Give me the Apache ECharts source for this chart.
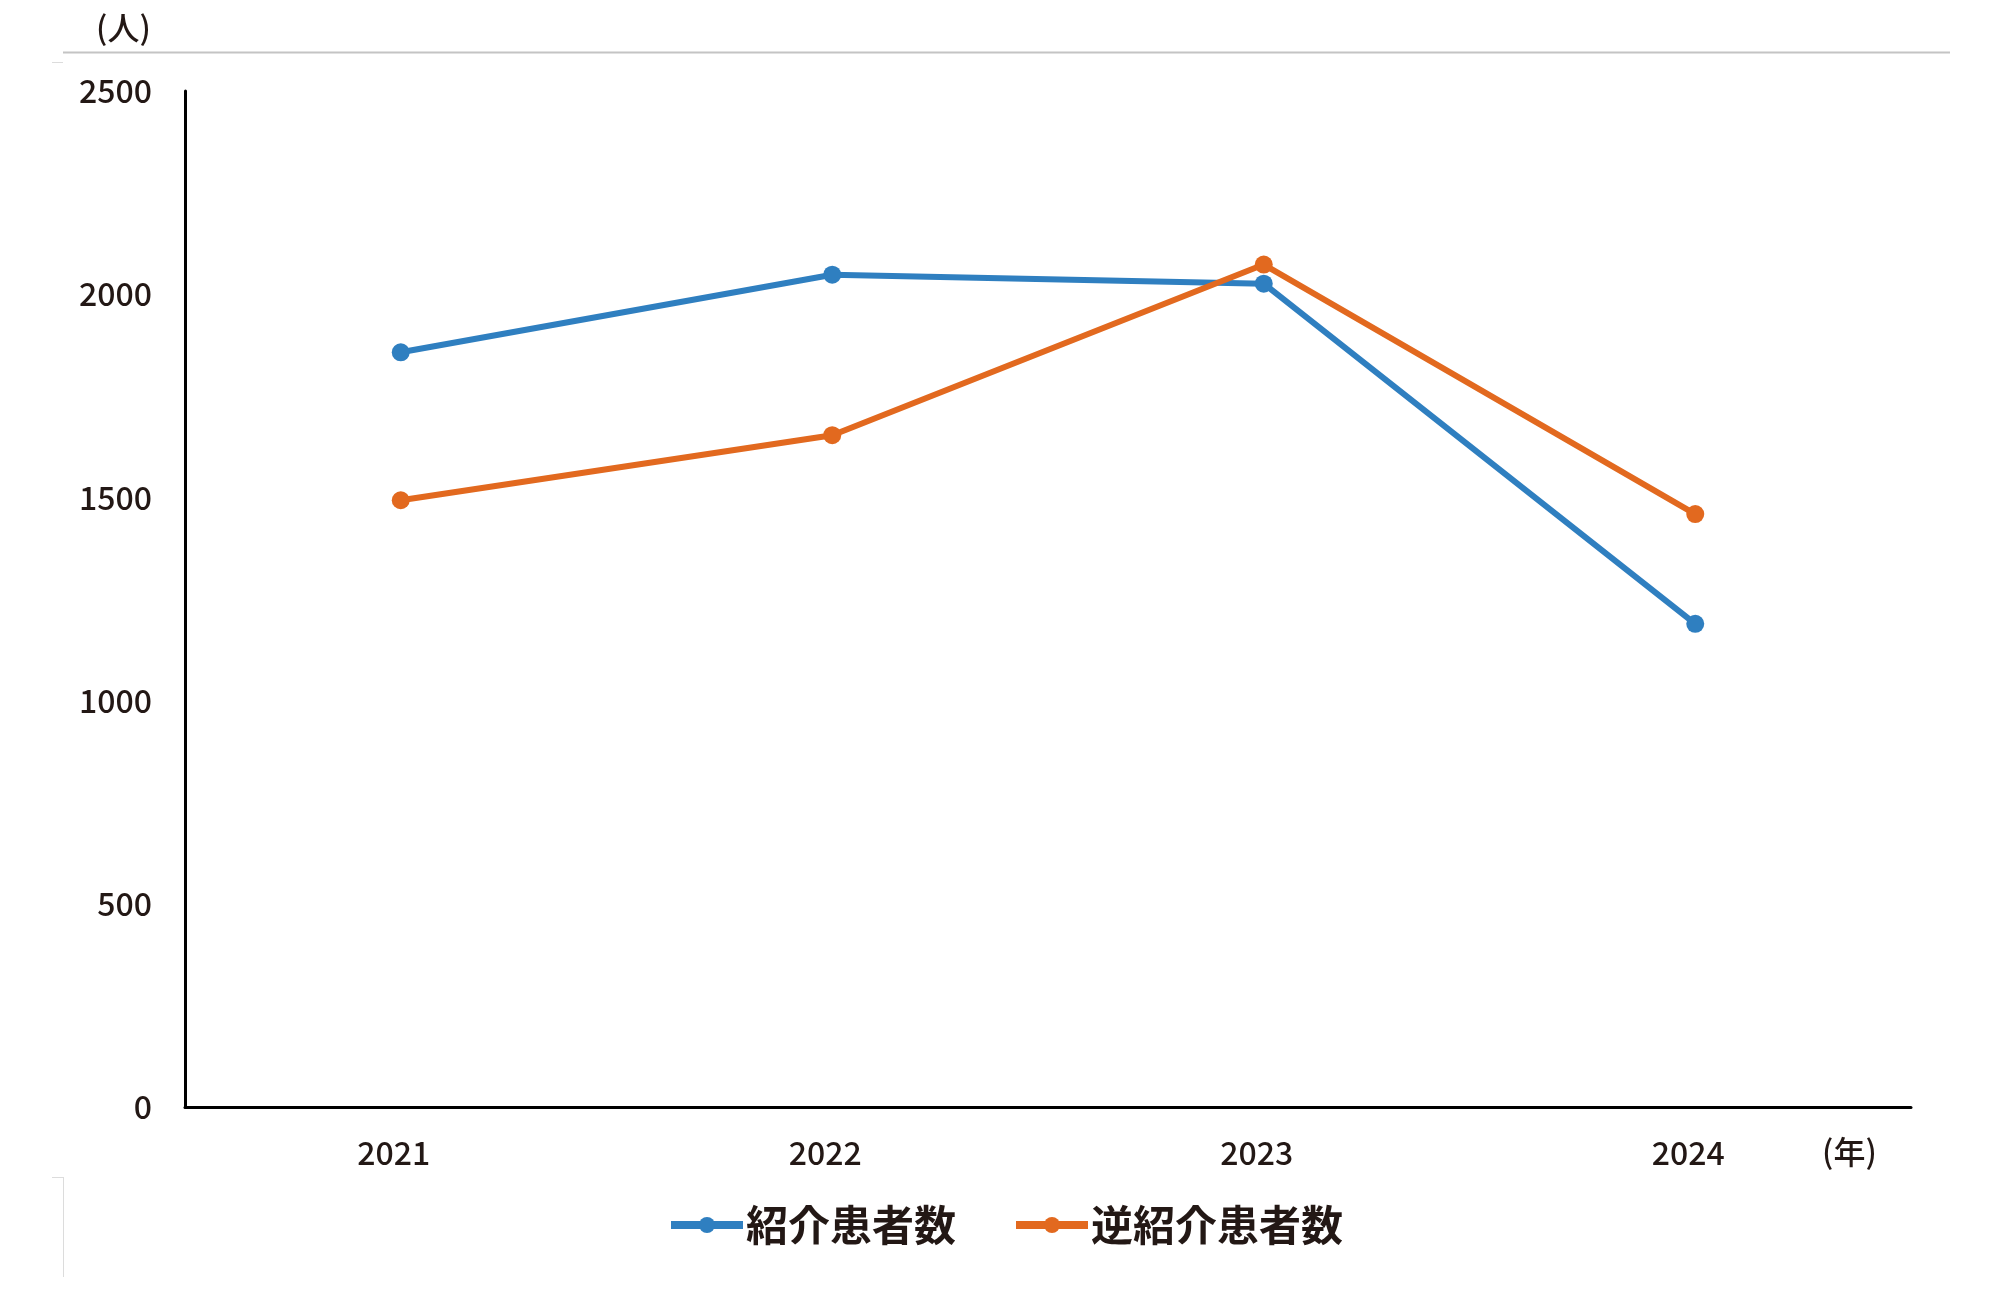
<!DOCTYPE html>
<html>
<head>
<meta charset="utf-8">
<script src="https://cdn.jsdelivr.net/npm/echarts@6/dist/echarts.min.js"></script>
<style>
html,body{margin:0;padding:0;background:#fff;}
#c{width:2000px;height:1295px;}
</style>
</head>
<body>
<div id="c"></div>
<script>
const categories = ['2021', '2022', '2023', '2024'];
const referralPatients = [1857, 2048, 2026, 1189];
const reverseReferralPatients = [1493, 1653, 2073, 1459];
const seriesNames = ['紹介患者数', '逆紹介患者数'];
const yUnit = '(人)';
const xUnit = '(年)';

const FONT = '"Noto Sans CJK JP", "Noto Sans", sans-serif';
const TXT = '#231815';
const BLUE = '#2f7fc0';
const ORANGE = '#e2691f';
const chart = echarts.init(document.getElementById('c'), null, {renderer: 'canvas'});
chart.setOption({
  animation: false,
  backgroundColor: '#fff',
  grid: {left: 185, right: 89, top: 91, bottom: 188, containLabel: false},
  legend: {
    left: 662, top: 1199,
    itemWidth: 72, itemHeight: 20, itemGap: 56,
    lineStyle: {width: 8},
    textStyle: {fontFamily: FONT, fontSize: 42, fontWeight: 'bold', color: TXT, padding: [0,0,0,-2]},
    data: seriesNames
  },
  xAxis: {
    type: 'category',
    data: categories,
    boundaryGap: true,
    axisLine: {lineStyle: {color: '#000', width: 3}},
    axisTick: {show: false},
    axisLabel: {fontFamily: FONT, fontSize: 32, fontWeight: 500, color: TXT, margin: 30, padding: [0, 14, 0, 0]}
  },
  yAxis: {
    type: 'value',
    min: 0, max: 2500, interval: 500,
    axisLine: {show: true, lineStyle: {color: '#000', width: 3}},
    axisTick: {show: false},
    splitLine: {show: false},
    axisLabel: {fontFamily: FONT, fontSize: 32, fontWeight: 500, color: TXT, margin: 33,
      formatter: function (v) { return String(v); }}
  },
  series: [
    {
      name: seriesNames[0], type: 'line', data: referralPatients,
      symbol: 'circle', symbolSize: 18,
      lineStyle: {color: BLUE, width: 6},
      itemStyle: {color: BLUE}
    },
    {
      name: seriesNames[1], type: 'line', data: reverseReferralPatients,
      symbol: 'circle', symbolSize: 18,
      lineStyle: {color: ORANGE, width: 6},
      itemStyle: {color: ORANGE}
    }
  ],
  graphic: [
    {type: 'line', shape: {x1: 63, y1: 52.5, x2: 1950, y2: 52.5}, style: {stroke: '#c4c4c4', lineWidth: 2}},
    {type: 'line', shape: {x1: 52, y1: 62.5, x2: 63, y2: 62.5}, style: {stroke: '#dcdcdc', lineWidth: 1}},
    {type: 'line', shape: {x1: 63.5, y1: 1177, x2: 63.5, y2: 1277}, style: {stroke: '#dcdcdc', lineWidth: 1}},
    {type: 'line', shape: {x1: 52, y1: 1177.5, x2: 63, y2: 1177.5}, style: {stroke: '#dcdcdc', lineWidth: 1}},
    {type: 'text', left: 96, top: 12, style: {text: yUnit, font: '500 32px ' + FONT, fill: TXT}},
    {type: 'text', left: 1822, top: 1136, style: {text: xUnit, font: '500 32px ' + FONT, fill: TXT}}
  ]
});
</script>
</body>
</html>
